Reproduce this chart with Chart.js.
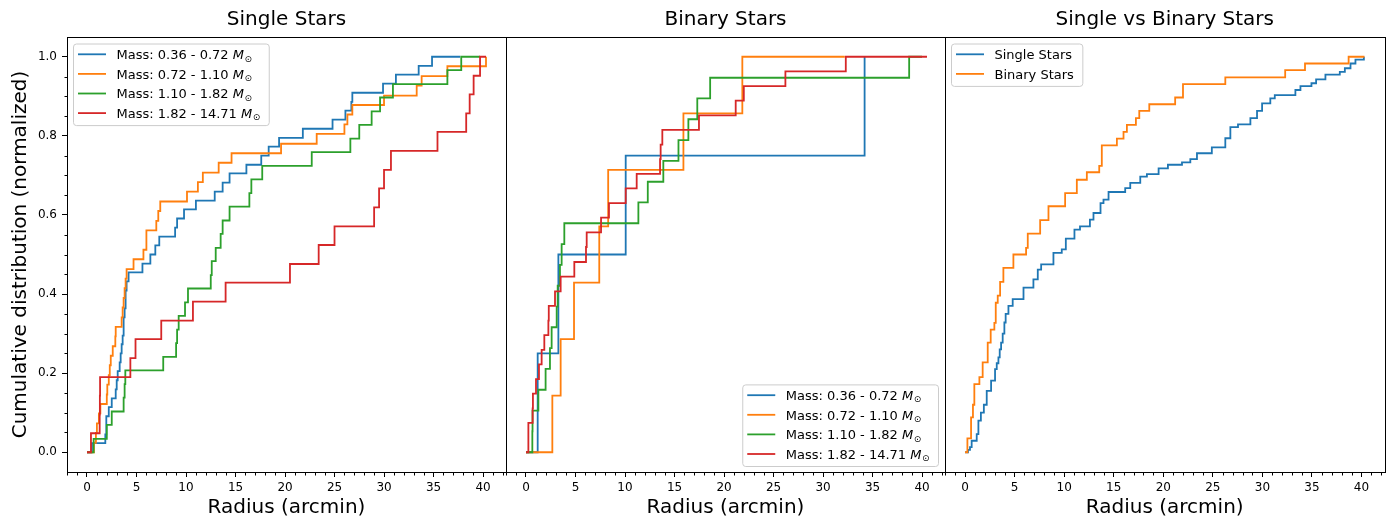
<!DOCTYPE html>
<html>
<head>
<meta charset="utf-8">
<script src="https://cdn.jsdelivr.net/npm/chart.js@4.4.1/dist/chart.umd.min.js"></script>
<style>
  html, body { margin: 0; padding: 0; background: #fff; }
  #wrap { position: relative; width: 1395px; height: 520px; overflow: hidden; }
  canvas { position: absolute; top: 0; }
</style>
</head>
<body>
<div id="wrap">
  <canvas id="single" width="510" height="520" style="left:0px"></canvas>
  <canvas id="binary" width="450" height="520" style="left:500px"></canvas>
  <canvas id="versus" width="455" height="520" style="left:940px"></canvas>
</div>
<script>
// cumulative distributions, [radius (arcmin), fraction]
const massBins = ["0.36 - 0.72", "0.72 - 1.10", "1.10 - 1.82", "1.82 - 14.71"];
const panelTitles = ["Single Stars", "Binary Stars", "Single vs Binary Stars"];

const singleBin1 = [[0,0],[0.5,0.023],[1.85,0.045],[1.95,0.091],[2.2,0.114],[2.5,0.136],[2.9,0.159],[3.0,0.182],[3.1,0.205],[3.3,0.227],[3.4,0.25],[3.5,0.273],[3.6,0.295],[3.7,0.341],[3.8,0.364],[3.9,0.409],[4.0,0.432],[4.2,0.455],[5.6,0.477],[6.4,0.5],[6.9,0.523],[7.3,0.545],[8.9,0.568],[9.1,0.591],[9.8,0.614],[11.0,0.636],[12.9,0.659],[13.7,0.682],[14.4,0.705],[16.1,0.727],[17.6,0.75],[18.35,0.773],[19.4,0.795],[21.8,0.818],[24.8,0.841],[26.1,0.864],[26.7,0.886],[26.8,0.909],[29.9,0.932],[31.2,0.955],[33.5,0.977],[34.85,1.0],[37.7,1.0]];
const singleBin2 = [[0,0],[0.7,0.024],[0.9,0.049],[1.0,0.073],[1.2,0.098],[1.35,0.122],[2.0,0.146],[2.05,0.171],[2.2,0.195],[2.3,0.22],[2.4,0.244],[2.6,0.268],[2.86,0.293],[2.9,0.317],[3.5,0.341],[3.6,0.366],[3.7,0.39],[3.8,0.415],[3.9,0.439],[4.0,0.463],[4.7,0.488],[5.7,0.512],[6.0,0.561],[7.0,0.585],[7.2,0.61],[7.4,0.634],[10.1,0.659],[11.2,0.683],[11.7,0.707],[13.3,0.732],[14.6,0.756],[19.6,0.78],[23.2,0.805],[26.0,0.829],[26.3,0.854],[26.8,0.878],[30.0,0.902],[33.3,0.927],[33.8,0.951],[36.4,0.976],[40.3,1.0]];
const singleBin3 = [[0,0],[0.67,0.034],[2.0,0.069],[2.5,0.103],[3.7,0.138],[3.8,0.172],[3.87,0.207],[7.7,0.241],[9.0,0.276],[9.1,0.31],[9.26,0.345],[9.9,0.379],[10.2,0.414],[12.5,0.448],[12.6,0.483],[13.0,0.517],[13.5,0.552],[13.7,0.586],[14.4,0.621],[16.4,0.655],[16.6,0.69],[17.7,0.724],[22.7,0.759],[26.6,0.793],[27.5,0.828],[28.75,0.862],[29.6,0.897],[30.9,0.931],[36.4,0.966],[37.8,1.0],[39.7,1.0]];
const singleBin4 = [[0,0],[0.4,0.048],[1.28,0.095],[1.3,0.143],[1.32,0.19],[4.38,0.238],[4.9,0.286],[7.5,0.333],[10.7,0.381],[14.0,0.429],[20.5,0.476],[23.4,0.524],[25.0,0.571],[29.0,0.619],[29.5,0.667],[30.0,0.714],[30.7,0.762],[35.4,0.81],[38.3,0.857],[38.65,0.905],[39.05,0.952],[39.7,1.0],[40.3,1.0]];

const binaryBin1 = [[0,0],[1.18,0.25],[3.27,0.5],[10.07,0.75],[34.2,1.0]];
const binaryBin2 = [[0,0],[2.66,0.143],[3.5,0.286],[4.85,0.429],[7.4,0.571],[8.3,0.714],[15.9,0.857],[21.85,1.0],[32.2,1.0]];
const binaryBin3 = [[0,0],[0.64,0.053],[0.66,0.105],[1.25,0.158],[1.98,0.211],[2.42,0.263],[2.59,0.316],[3.1,0.368],[3.2,0.421],[3.43,0.474],[3.6,0.526],[3.87,0.579],[11.35,0.632],[12.3,0.684],[13.87,0.737],[15.4,0.789],[16.4,0.842],[17.3,0.895],[18.6,0.947],[38.7,1.0],[40.0,1.0]];
const binaryBin4 = [[0,0],[0.24,0.074],[0.67,0.111],[0.7,0.148],[1.01,0.185],[1.31,0.222],[1.58,0.259],[1.85,0.296],[2.26,0.333],[2.3,0.37],[2.93,0.407],[3.5,0.444],[4.88,0.481],[6.06,0.519],[6.13,0.556],[7.58,0.593],[8.38,0.63],[10.07,0.667],[11.18,0.704],[13.54,0.741],[13.6,0.778],[13.77,0.815],[17.47,0.852],[21.18,0.889],[22.0,0.926],[26.2,0.963],[32.3,1.0],[40.5,1.0]];

const singleAll = [[0,0],[0.3,0.006],[0.5,0.013],[0.67,0.029],[1.18,0.046],[1.35,0.08],[1.6,0.1],[1.9,0.12],[2.19,0.155],[2.63,0.181],[3.03,0.21],[3.2,0.225],[3.37,0.24],[3.5,0.26],[3.64,0.277],[3.8,0.3],[3.97,0.328],[4.1,0.35],[4.38,0.37],[4.81,0.387],[5.9,0.416],[6.9,0.437],[7.34,0.462],[7.68,0.475],[8.92,0.504],[9.76,0.513],[10.17,0.54],[11.04,0.563],[11.6,0.571],[12.6,0.588],[12.96,0.605],[13.67,0.63],[13.97,0.639],[14.48,0.658],[16.16,0.668],[16.67,0.681],[17.68,0.697],[18.35,0.703],[19.53,0.718],[20.47,0.727],[21.89,0.733],[22.73,0.741],[23.4,0.756],[24.9,0.771],[26.26,0.794],[26.77,0.822],[27.54,0.829],[28.79,0.845],[29.46,0.863],[29.97,0.882],[30.8,0.895],[31.25,0.903],[33.33,0.916],[33.84,0.926],[34.95,0.933],[35.42,0.943],[36.36,0.955],[37.81,0.962],[38.32,0.971],[38.89,0.983],[39.39,0.993],[40.24,1.0]];
const binaryAll = [[0,0],[0.24,0.035],[0.61,0.088],[0.8,0.12],[0.94,0.172],[1.45,0.19],[1.78,0.227],[2.29,0.277],[2.59,0.31],[2.96,0.327],[3.1,0.378],[3.3,0.396],[3.54,0.431],[3.87,0.466],[4.88,0.5],[6.16,0.517],[6.33,0.553],[7.58,0.587],[8.42,0.622],[10.1,0.655],[11.28,0.689],[12.29,0.708],[13.54,0.724],[13.8,0.776],[15.32,0.793],[15.99,0.81],[16.33,0.828],[17.24,0.845],[17.58,0.863],[18.59,0.88],[21.2,0.897],[21.99,0.931],[26.26,0.948],[32.3,0.966],[34.3,0.983],[38.7,1.0],[40.3,1.0]];

const COLORS = ["#1f77b4", "#ff7f0e", "#2ca02c", "#d62728"];
const FONT = '"DejaVu Sans", sans-serif';
const X_MIN = -2.02, X_MAX = 42.32;

Chart.defaults.font.family = FONT;
Chart.defaults.color = "#000";

const isMajorY = v => Math.abs(v * 5 - Math.round(v * 5)) < 1e-6 && v > -0.01 && v < 1.01;
const isMajorX = v => Math.abs(v / 5 - Math.round(v / 5)) < 1e-6 && v > -0.5;

// draws label text; "M⊙" suffix gets italic M and subscript sun
function drawLabel(ctx, text, x, base, draw) {
  let plain = text, math = false;
  if (text.endsWith("M⊙")) { plain = text.slice(0, -2); math = true; }
  ctx.font = "13px " + FONT;
  let w = ctx.measureText(plain).width;
  if (draw) ctx.fillText(plain, x, base);
  if (math) {
    ctx.font = "italic 13px " + FONT;
    if (draw) ctx.fillText("M", x + w, base);
    w += ctx.measureText("M").width + 0.5;
    ctx.font = "9px " + FONT;
    if (draw) ctx.fillText("⊙", x + w, base + 2.5);
    w += ctx.measureText("⊙").width;
  }
  return w;
}

function drawLegend(chart, where) {
  const { ctx, chartArea: a } = chart;
  const items = chart.data.datasets;
  const rowH = 19.6;
  ctx.textAlign = "left";
  ctx.textBaseline = "alphabetic";
  const tw = Math.max(...items.map(ds => drawLabel(ctx, ds.label, 0, 0, false)));
  const w = 43 + tw + 9;
  const h = 10.3 + (items.length - 1) * rowH + 12.5;
  const bx = where === "br" ? a.right - 6.5 - w : a.left + 6.5;
  const by = where === "br" ? a.bottom - 5.5 - h : a.top + 7;
  ctx.beginPath();
  if (ctx.roundRect) ctx.roundRect(bx, by, w, h, 3); else ctx.rect(bx, by, w, h);
  ctx.fillStyle = "rgba(255,255,255,0.8)";
  ctx.fill();
  ctx.strokeStyle = "#cccccc";
  ctx.lineWidth = 1;
  ctx.stroke();
  items.forEach((ds, i) => {
    const cy = by + 10.3 + i * rowH;
    ctx.strokeStyle = ds.borderColor;
    ctx.lineWidth = ds.borderWidth;
    ctx.beginPath();
    ctx.moveTo(bx + 4.5, cy);
    ctx.lineTo(bx + 32.5, cy);
    ctx.stroke();
    ctx.fillStyle = "#000";
    drawLabel(ctx, ds.label, bx + 43, cy + 4.7, true);
  });
}

const panelDeco = {
  id: "panelDeco",
  afterDraw(chart, args, opts) {
    const { ctx, chartArea: a, scales } = chart;
    const x = scales.x, y = scales.y;
    const L = Math.round(a.left) + 0.5, R = Math.round(a.right) + 0.5;
    const T = Math.round(a.top) + 0.5, B = Math.round(a.bottom) + 0.5;
    ctx.save();
    ctx.strokeStyle = "#000";
    ctx.lineWidth = 1;
    ctx.beginPath();
    for (let v = Math.ceil(x.min); v <= x.max; v++) {
      if (v % 5 === 0) continue;
      const px = Math.round(x.getPixelForValue(v)) + 0.5;
      ctx.moveTo(px, B); ctx.lineTo(px, B + 3);
    }
    if (opts.minorY) {
      for (let k = 0; k <= 20; k++) {
        if (k % 4 === 0) continue;
        const py = Math.round(y.getPixelForValue(k * 0.05)) + 0.5;
        ctx.moveTo(L, py); ctx.lineTo(L - 3, py);
      }
    }
    ctx.stroke();
    ctx.strokeRect(L, T, R - L, B - T);
    ctx.fillStyle = "#000";
    ctx.font = "20px " + FONT;
    ctx.textAlign = "center";
    ctx.textBaseline = "middle";
    ctx.fillText(opts.title, (a.left + a.right) / 2, 20);
    drawLegend(chart, opts.legendAt);
    ctx.restore();
  }
};

function makePanel(id, series, labels, o) {
  new Chart(document.getElementById(id), {
    type: "line",
    data: {
      datasets: series.map((pts, i) => ({
        label: labels[i],
        data: pts.map(p => ({ x: p[0], y: p[1] })),
        borderColor: COLORS[i],
        borderWidth: 1.8,
        pointRadius: 0,
        stepped: true,
        fill: false,
        order: series.length - i
      }))
    },
    options: {
      responsive: false,
      animation: false,
      events: [],
      layout: { padding: { top: 37, bottom: 0, left: o.padLeft, right: o.padRight } },
      plugins: {
        legend: { display: false },
        tooltip: { enabled: false },
        panelDeco: { title: o.title, legendAt: o.legendAt, minorY: o.showY }
      },
      scales: {
        x: {
          type: "linear",
          min: X_MIN,
          max: X_MAX,
          afterFit: s => { s.height = 48; },
          border: { display: true, color: "#000" },
          grid: {
            drawOnChartArea: false,
            tickLength: 5,
            tickColor: c => isMajorX(c.tick.value) ? "#000" : "rgba(0,0,0,0)"
          },
          ticks: {
            stepSize: 5,
            includeBounds: false,
            autoSkip: false,
            maxRotation: 0,
            padding: 4,
            font: { size: 12 },
            callback: v => isMajorX(v) ? String(Math.round(v)) : ""
          },
          title: { display: true, text: "Radius (arcmin)", font: { size: 20 }, padding: { top: 0, bottom: 0 } }
        },
        y: {
          type: "linear",
          min: -0.05,
          max: 1.05,
          display: o.showY,
          afterFit: s => { if (o.showY) s.width = 67; },
          border: { display: true, color: "#000" },
          grid: {
            drawOnChartArea: false,
            tickLength: 5,
            tickColor: c => isMajorY(c.tick.value) ? "#000" : "rgba(0,0,0,0)"
          },
          ticks: {
            stepSize: 0.2,
            includeBounds: false,
            autoSkip: false,
            padding: 5,
            font: { size: 12 },
            callback: v => isMajorY(v) ? (Math.round(v * 5) / 5).toFixed(1) : ""
          },
          title: { display: true, text: "Cumulative distribution (normalized)", font: { size: 20 }, padding: { top: 8.5, bottom: 0 } }
        }
      }
    },
    plugins: [panelDeco]
  });
}

const massLabels = massBins.map(b => "Mass: " + b + " M⊙");

makePanel("single", [singleBin1, singleBin2, singleBin3, singleBin4], massLabels,
  { title: panelTitles[0], legendAt: "tl", showY: true, padLeft: 0, padRight: 4 });
makePanel("binary", [binaryBin1, binaryBin2, binaryBin3, binaryBin4], massLabels,
  { title: panelTitles[1], legendAt: "br", showY: false, padLeft: 6, padRight: 5 });
makePanel("versus", [singleAll, binaryAll], ["Single Stars", "Binary Stars"],
  { title: panelTitles[2], legendAt: "tl", showY: false, padLeft: 5, padRight: 10.5 });
</script>
</body>
</html>
